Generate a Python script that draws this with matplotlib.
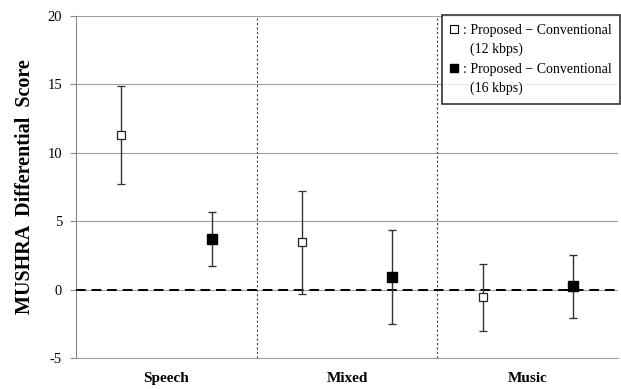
import matplotlib.pyplot as plt
from matplotlib.lines import Line2D

plt.rcParams['font.family'] = ['Liberation Serif', 'DejaVu Serif']
plt.rcParams['axes.unicode_minus'] = False

categories = ['Speech', 'Mixed', 'Music']
# 12 kbps (open squares)
mean_12 = [11.3, 3.5, -0.55]
low_12 = [7.7, -0.3, -3.05]
high_12 = [14.9, 7.2, 1.85]
# 16 kbps (filled squares)
mean_16 = [3.7, 0.95, 0.26]
low_16 = [1.72, -2.5, -2.1]
high_16 = [5.65, 4.36, 2.53]

fig = plt.figure(figsize=(6.21, 3.89), dpi=100)
ax = fig.add_axes([76/621, 1 - 358/389, 542/621, 342/389])

x12 = [i + 0.25 for i in range(3)]
x16 = [i + 0.75 for i in range(3)]

err12 = [[m - l for m, l in zip(mean_12, low_12)], [h - m for m, h in zip(mean_12, high_12)]]
err16 = [[m - l for m, l in zip(mean_16, low_16)], [h - m for m, h in zip(mean_16, high_16)]]

ax.errorbar(x12, mean_12, yerr=err12, fmt='s', mfc='white', mec='#222222', mew=0.9,
            ms=6, ecolor='#333333', elinewidth=1, capsize=3, zorder=4)
ax.errorbar(x16, mean_16, yerr=err16, fmt='s', mfc='black', mec='black',
            ms=6.5, ecolor='#333333', elinewidth=1, capsize=3, zorder=4)

ax.axhline(0, color='black', linestyle=(0, (5, 3)), linewidth=1.4, zorder=3)
for xv in [1, 2]:
    ax.axvline(xv, color='#444444', linestyle=(0, (2, 2)), linewidth=0.8)

ax.set_xlim(0, 3)
ax.set_ylim(-5, 20)
ax.set_yticks([-5, 0, 5, 10, 15, 20])
ax.yaxis.grid(True, color='#a0a0a0', linewidth=0.8)
ax.set_axisbelow(True)
ax.set_xticks([0.5, 1.5, 2.5])
ax.set_xticklabels(categories, fontweight='bold', fontsize=11)
ax.tick_params(axis='x', length=0, pad=10)
ax.tick_params(axis='y', length=4, color='#888888', labelsize=10.5, pad=6)
for s in ['top', 'right']:
    ax.spines[s].set_visible(False)
ax.spines['left'].set_color('#888888')
ax.spines['bottom'].set_color('#a0a0a0')
ax.set_ylabel('MUSHRA  Differential  Score', fontweight='bold', fontsize=14.5, labelpad=9)

blank = Line2D([], [], linestyle='none')
handles = [
    Line2D([], [], marker='s', linestyle='none', mfc='white', mec='black', ms=6, mew=0.8),
    blank,
    Line2D([], [], marker='s', linestyle='none', mfc='black', mec='black', ms=6),
    blank,
]
labels = [': Proposed \u2212 Conventional', '  (12 kbps)',
          ': Proposed \u2212 Conventional', '  (16 kbps)']
leg = ax.legend(handles, labels, loc='upper right', bbox_to_anchor=(1.016, 1.022),
                fontsize=10, frameon=True, fancybox=False, edgecolor='black',
                handlelength=0.6, handletextpad=0.3, borderpad=0.6, labelspacing=0.45)
leg.get_frame().set_linewidth(1.2)

fig.savefig('out.png', dpi=100)
